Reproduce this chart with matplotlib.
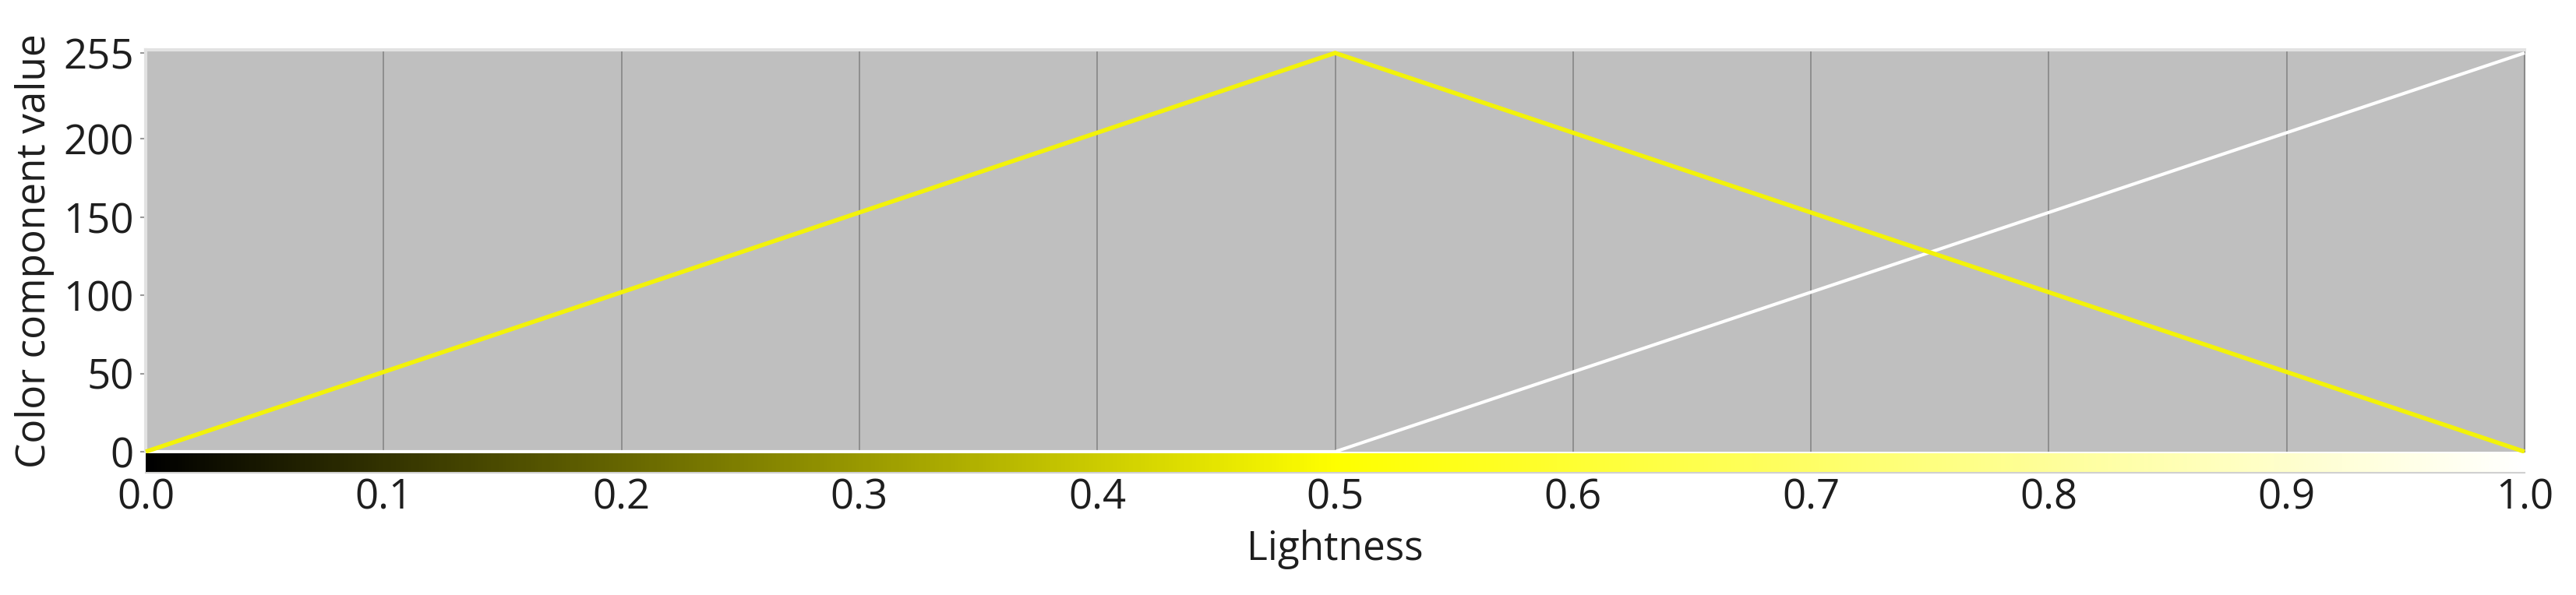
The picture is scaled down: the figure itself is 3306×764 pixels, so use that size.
import colorsys
import numpy as np
import matplotlib
matplotlib.use("Agg")
import matplotlib.pyplot as plt

plt.rcParams['font.family'] = ['Open Sans', 'DejaVu Sans']

# data
lightness = [0.0, 0.5, 1.0]
yellow_vals = [0, 255, 0]
white_vals = [0, 0, 255]
y_ticks = [0, 50, 100, 150, 200, 255]
x_ticks = [0.0, 0.1, 0.2, 0.3, 0.4, 0.5, 0.6, 0.7, 0.8, 0.9, 1.0]
hue = 60 / 360.0
saturation = 1.0

W, H = 3306, 764
fig = plt.figure(figsize=(W / 100, H / 100), dpi=100)

def frac(x0, y0, x1, y1):
    return [x0 / W, 1 - y1 / H, (x1 - x0) / W, (y1 - y0) / H]

ax = fig.add_axes(frac(187, 64, 3240, 580))
ax.set_facecolor('#bfbfbf')
ax.set_xlim(0, 1)
ax.set_ylim(0, 257)

for x in x_ticks[1:]:
    ax.axvline(x, color='#8e8e8e', lw=1.4, zorder=1)

ax.plot(lightness, white_vals, color='white', lw=3.0, zorder=3, clip_on=False,
        solid_capstyle='butt')
ax.plot(lightness, yellow_vals, color='#f2f20a', lw=4.0, zorder=4, clip_on=False,
        solid_capstyle='butt')

ax.set_yticks(y_ticks)
ax.set_yticklabels([str(v) for v in y_ticks], fontsize=38, color='#1e1e1e')
ax.tick_params(axis='y', length=5, width=1.5, color='#9a9a9a', pad=6)
ax.set_xticks([])
ax.set_ylabel('Color component value', fontsize=37, color='#1e1e1e', labelpad=8)

ax.spines['top'].set_color('#e2e2e2')
ax.spines['top'].set_linewidth(3)
ax.spines['left'].set_color('#e2e2e2')
ax.spines['left'].set_linewidth(3)
ax.spines['right'].set_color('#8a8a8a')
ax.spines['right'].set_linewidth(1.5)
ax.spines['bottom'].set_visible(False)

# lightness gradient strip under the plot
cax = fig.add_axes(frac(187, 582, 3240, 607))
ls = np.linspace(0, 1, 600)
grad = np.array([colorsys.hls_to_rgb(hue, l, saturation) for l in ls])
cax.imshow(grad[np.newaxis, :, :], aspect='auto', extent=[0, 1, 0, 1])
cax.set_xlim(0, 1)
cax.set_yticks([])
cax.set_xticks(x_ticks)
cax.set_xticklabels([f'{v:.1f}' for v in x_ticks], fontsize=38, color='#1e1e1e')
cax.tick_params(axis='x', length=0, pad=4)
for s in ['top', 'left', 'right']:
    cax.spines[s].set_visible(False)
cax.spines['bottom'].set_color('#d0d0d0')
cax.spines['bottom'].set_linewidth(1.5)
cax.set_xlabel('Lightness', fontsize=37, color='#1e1e1e', labelpad=10)

fig.savefig('out.png', dpi=100)
